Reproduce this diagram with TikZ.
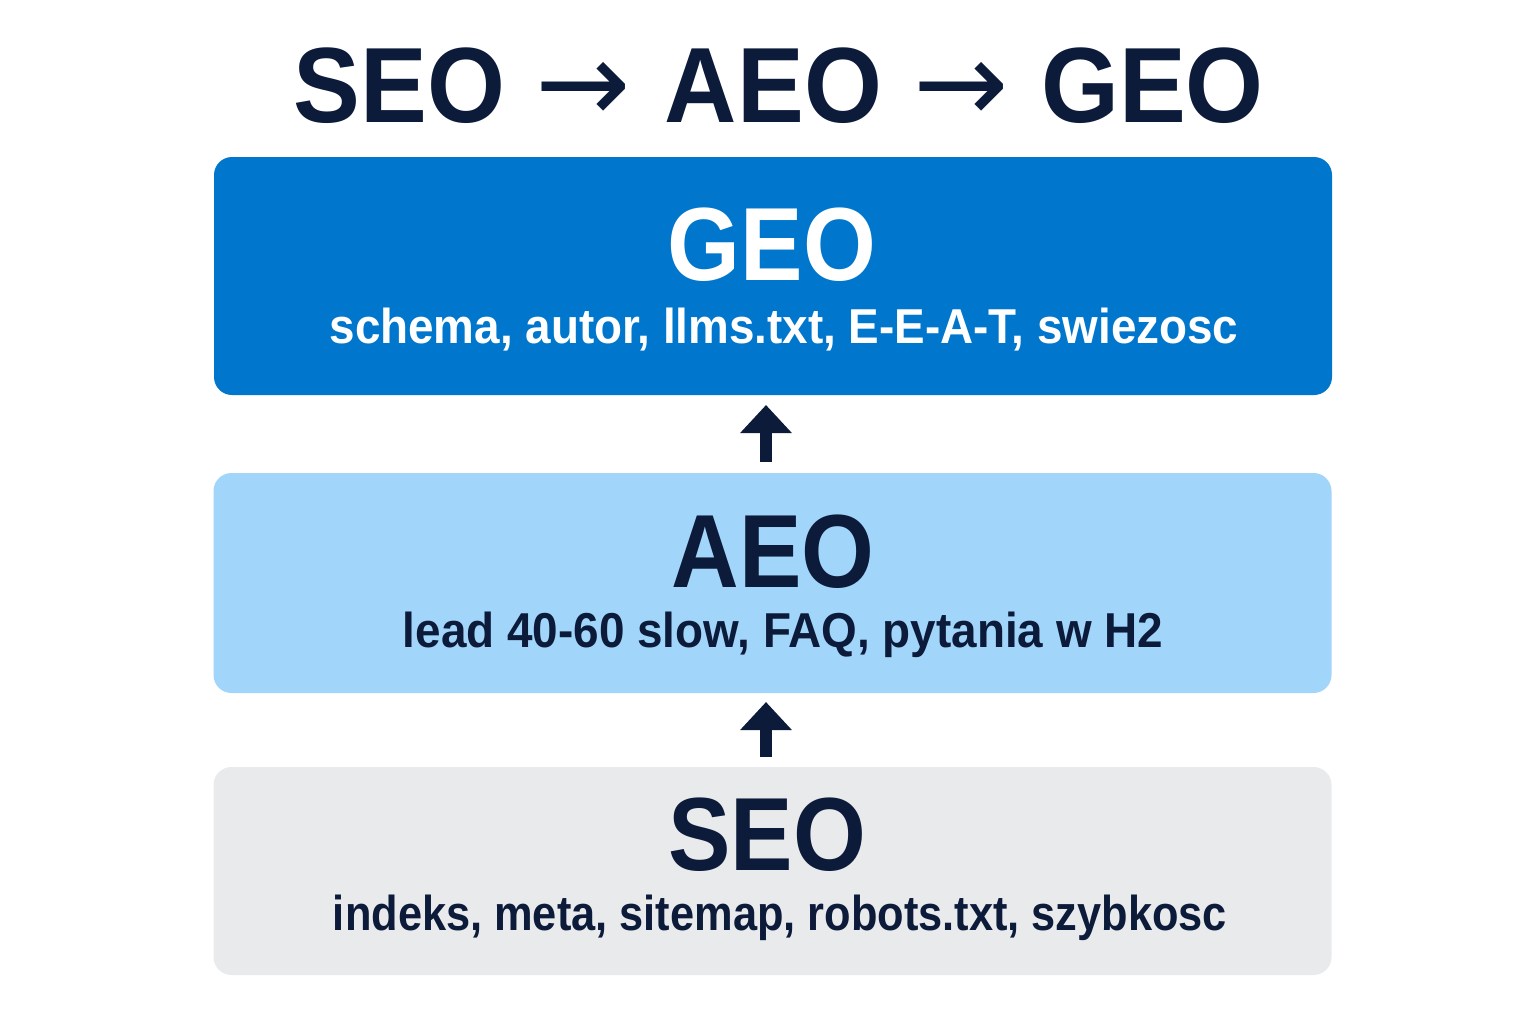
\documentclass[tikz,border=0pt]{standalone}
\usepackage{fontspec}
\setmainfont{Liberation Sans}[FakeStretch=0.9]
\newfontfamily\plainsans{Liberation Sans}
\newfontfamily\arrowfont{DejaVu Sans}
\usetikzlibrary{arrows.meta}
\definecolor{navy}{HTML}{0D1B3A}
\definecolor{geoblue}{HTML}{0077CC}
\definecolor{aeoblue}{HTML}{A2D5FA}
\definecolor{seogrey}{HTML}{E9EAEC}
\tikzset{
  layerbox/.style={rectangle, rounded corners=9pt, inner sep=0pt, minimum width=559pt},
  titletext/.style={anchor=base, inner sep=0pt, text=navy, font=\fontsize{53.5}{60}\selectfont\bfseries},
  titlearrow/.style={anchor=base, inner sep=0pt, text=navy, font=\arrowfont\fontsize{57}{60}\selectfont},
  headtext/.style={anchor=base, inner sep=0pt, font=\fontsize{52}{60}\selectfont\bfseries},
  subtext/.style={anchor=base, inner sep=0pt, font=\plainsans\fontsize{24.5}{30}\selectfont\bfseries},
  uparrow/.style={draw=navy, line width=6pt, -{Triangle[width=25pt,length=14pt]}},
}
\begin{document}
\begin{tikzpicture}[x=0.5pt,y=-0.5pt]
\useasboundingbox[fill=white] (0,0) rectangle (1536,1024);
\node[titletext] (t1) at (399.5,122) {\scalebox{1.04}[1]{SEO}};
\node[titlearrow] (t2) at (583.5,122) {→};
\node[titletext] (t3) at (773.5,122) {\scalebox{1.04}[1]{AEO}};
\node[titlearrow] (t4) at (961.5,122) {→};
\node[titletext] (t5) at (1152.5,122) {\scalebox{1.04}[1]{GEO}};
\node[layerbox, fill=geoblue, minimum height=119pt] (geo) at (773,276) {};
\node[layerbox, fill=aeoblue, minimum height=110pt] (aeo) at (772.5,583) {};
\node[layerbox, fill=seogrey, minimum height=104pt] (seo) at (772.5,871) {};
\node[headtext, text=white] (geoh) at (772,280) {GEO};
\node[subtext, text=white] (geos) at (784,343) {\scalebox{0.935}[1]{schema, autor, llms.txt, E-E-A-T, swiezosc}};
\node[headtext, text=navy] (aeoh) at (773,587) {AEO};
\node[subtext, text=navy] (aeos) at (783,647) {\scalebox{0.936}[1]{lead 40-60 slow, FAQ, pytania w H2}};
\node[headtext, text=navy] (seoh) at (767,870) {SEO};
\node[subtext, text=navy] (seos) at (780,930) {\scalebox{0.885}[1]{indeks, meta, sitemap, robots.txt, szybkosc}};
\coordinate (a1s) at (766,462);
\coordinate (a1e) at (766,405);
\coordinate (a2s) at (766,757);
\coordinate (a2e) at (766,702);
\draw[uparrow] (aeo.north -| a1s) ++(0,-11) -- (a1e);
\draw[uparrow] (seo.north -| a2s) ++(0,-10) -- (a2e);
\end{tikzpicture}
\end{document}
